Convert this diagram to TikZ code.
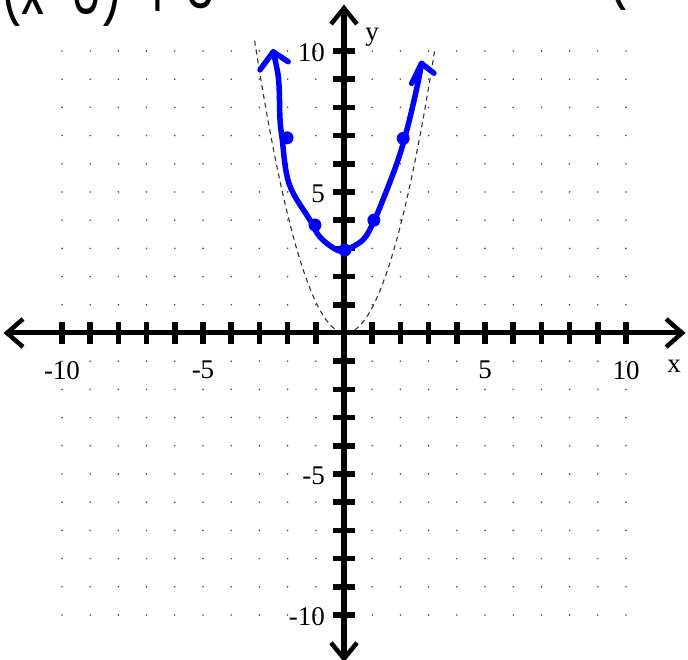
\documentclass[tikz,border=0pt]{standalone}
\usepackage{fontspec}
\setmainfont{Liberation Serif}
\newfontfamily\handfont{Poppins}
\begin{document}
\begin{tikzpicture}[x=28.2pt,y=28.2pt,
  axisline/.style={line width=5pt},
  tickmark/.style={line width=5.5pt},
  chev/.style={line width=4.5pt, line join=miter},
  lbl/.style={font=\fontsize{27}{30}\selectfont, inner sep=0pt},
  bluecurve/.style={draw=blue, line width=5.5pt, line cap=round, line join=round},
  bdot/.style={circle, fill=blue, minimum size=13pt, inner sep=0pt},
  handtext/.style={font=\handfont\fontsize{64}{70}\selectfont, inner sep=0pt, anchor=base west, xscale=0.75, transform shape},
]
\useasboundingbox (-344pt,-327pt) rectangle (344pt,333pt);
% grid of dots
\foreach \i in {-10,...,10}{\foreach \j in {-10,...,10}{\fill[black!70] (\i,\j) circle (0.9pt);}}
% dashed parent parabola
\draw[dash pattern=on 5pt off 4pt, black!80, line width=1.1pt, domain=-3.22:3.18, samples=90] plot ({\x+0.05},{\x*\x});
% axes
\coordinate (xl) at (-11.95,0);
\coordinate (xr) at (11.99,0);
\coordinate (yt) at (0,11.52);
\coordinate (yb) at (0,-11.55);
\draw[axisline] (xl) -- (xr);
\draw[axisline] (yb) -- (yt);
\draw[chev] (xl) ++(16pt,14pt) -- (xl) -- ++(16pt,-14pt);
\draw[chev] (xr) ++(-16pt,14pt) -- (xr) -- ++(-16pt,-14pt);
\draw[chev] (yt) ++(-13pt,-16pt) -- (yt) -- ++(13pt,-16pt);
\draw[chev] (yb) ++(-13pt,16pt) -- (yb) -- ++(13pt,16pt);
% ticks
\foreach \i in {-10,...,-1,1,2,...,10}{
  \draw[tickmark] (\i,0) ++(0,-11pt) -- ++(0,22pt);
  \draw[tickmark] (0,\i) ++(-11pt,0) -- ++(22pt,0);
}
% labels
\foreach \v in {-10,-5,5,10}{
  \node[lbl, anchor=north] (xlab\v) at ([yshift=-28pt]\v,0) {\v};
  \node[lbl, anchor=east] (ylab\v) at ([xshift=-19pt,yshift=-2pt]0,\v) {\v};
}
\node[lbl] (xname) at ([xshift=330pt,yshift=-33pt]0,0) {x};
\node[lbl] (yname) at ([xshift=28pt,yshift=296pt]0,0) {y};
% blue curve
\draw[bluecurve] plot[smooth, tension=0.6] coordinates {
  (-2.51,9.97) (-2.32,9.0) (-2.27,7.6) (-2.2,6.95) (-1.95,5.3) (-1.21,4.01)
  (-0.85,3.40) (-0.3,2.97) (0.04,2.94) (0.67,3.30) (1.03,3.90) (1.38,4.72)
  (1.88,6.03) (2.23,7.20) (2.59,8.72) (2.75,9.56)};
\draw[bluecurve] (-2.98,9.33) -- (-2.51,9.97) -- (-1.98,9.62);
\draw[bluecurve] (2.40,8.85) -- (2.75,9.56) -- (3.19,9.21);
% blue points
\node[bdot] (p1) at (-2.02,6.92) {};
\node[bdot] (p2) at (-1.03,3.83) {};
\node[bdot] (p3) at (0.03,2.94) {};
\node[bdot] (p4) at (1.06,4.0) {};
\node[bdot] (p5) at (2.1,6.9) {};
% handwritten text (cut off at the top)
\node[handtext] (eq) at (-12.2,11.31) {(x\raisebox{10pt}{-}0)};
\node[handtext] (eq3) at (-7.2,11.52) {\raisebox{-10pt}{+} 3};
\node[handtext] (eq2) at (9.3,11.85) {(};
\end{tikzpicture}
\end{document}
